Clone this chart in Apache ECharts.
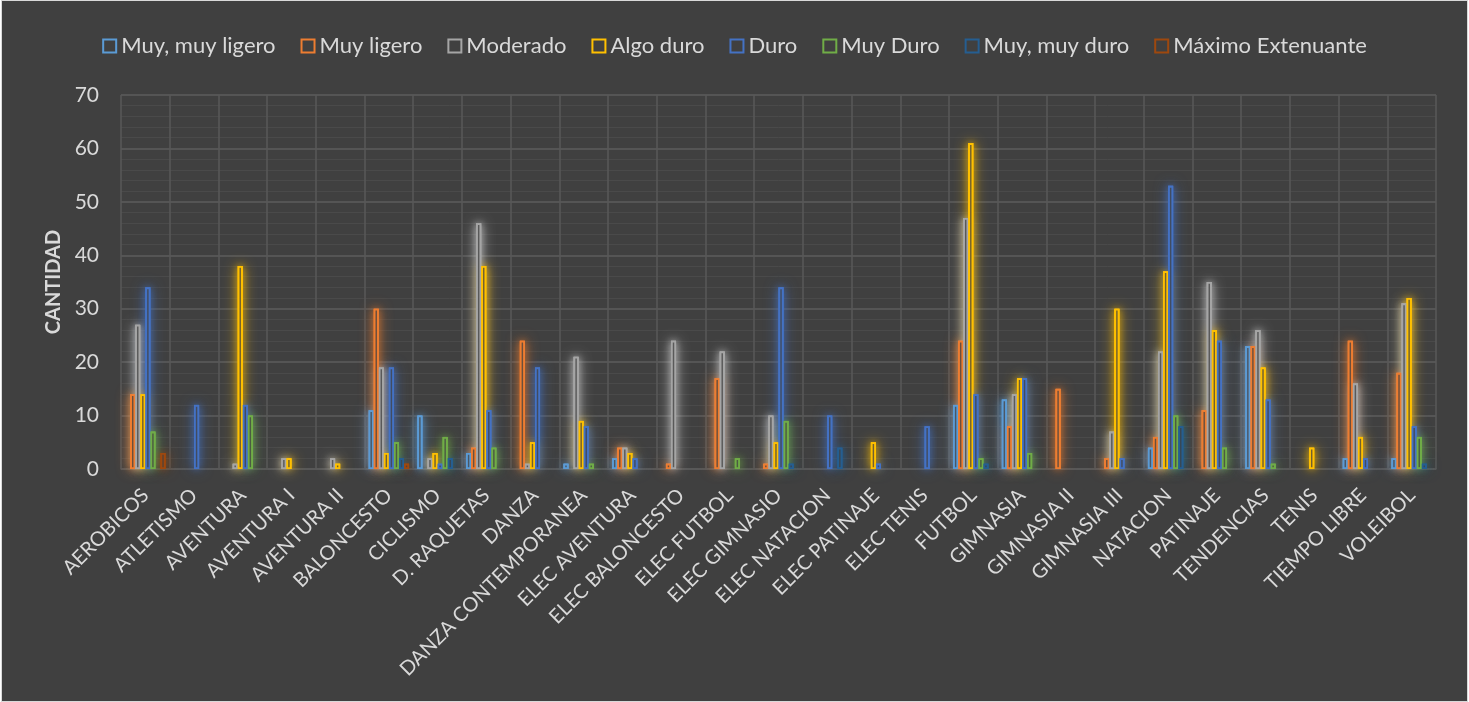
<!DOCTYPE html>
<html>
<head>
<meta charset="utf-8">
<script src="https://cdn.jsdelivr.net/npm/echarts@6/dist/echarts.min.js"></script>
<style>
html,body{margin:0;padding:0;background:#ffffff;width:1469px;height:702px;overflow:hidden}
#frame{position:absolute;left:1px;top:0px;width:1465px;height:700px;border:1px solid #d9d9d9;background:#404040}
#chart{position:absolute;left:0;top:0;width:1465px;height:700px}
</style>
</head>
<body>
<div id="frame"><div id="chart"></div></div>
<script>
const categories = ['AEROBICOS','ATLETISMO','AVENTURA','AVENTURA I','AVENTURA II','BALONCESTO','CICLISMO','D. RAQUETAS','DANZA','DANZA CONTEMPORANEA','ELEC AVENTURA','ELEC BALONCESTO','ELEC FUTBOL','ELEC GIMNASIO','ELEC NATACION','ELEC PATINAJE','ELEC TENIS','FUTBOL','GIMNASIA','GIMNASIA II','GIMNASIA III','NATACION','PATINAJE','TENDENCIAS','TENIS','TIEMPO LIBRE','VOLEIBOL'];

const seriesNames = ['Muy, muy ligero','Muy ligero','Moderado','Algo duro','Duro','Muy Duro','Muy, muy duro','Máximo Extenuante'];

const muyMuyLigero = [null,null,null,null,null,11,10,3,null,1,2,null,null,null,null,null,null,12,13,null,null,4,null,23,null,2,2];
const muyLigero    = [14,null,null,null,null,30,null,4,24,null,4,1,17,1,null,null,null,24,8,15,2,6,11,23,null,24,18];
const moderado     = [27,null,1,2,2,19,2,46,1,21,4,24,22,10,null,null,null,47,14,null,7,22,35,26,null,16,31];
const algoDuro     = [14,null,38,2,1,3,3,38,5,9,3,null,null,5,null,5,null,61,17,null,30,37,26,19,4,6,32];
const duro         = [34,12,12,null,null,19,1,11,19,8,2,null,null,34,10,1,8,14,17,null,2,53,24,13,null,2,8];
const muyDuro      = [7,null,10,null,null,5,6,4,null,1,null,null,2,9,null,null,null,2,3,null,null,10,4,1,null,null,6];
const muyMuyDuro   = [null,null,null,null,null,2,2,null,null,null,null,null,null,1,4,null,null,1,null,null,null,8,null,null,null,null,1];
const maximoExtenuante = [3,null,null,null,null,1,null,null,null,null,null,null,null,null,null,null,null,null,null,null,null,null,null,null,null,null,null];

const yTicks = [0,10,20,30,40,50,60,70];

const seriesData = [muyMuyLigero,muyLigero,moderado,algoDuro,duro,muyDuro,muyMuyDuro,maximoExtenuante];
const colors = ['#5B9BD5','#ED7D31','#A5A5A5','#FFC000','#4472C4','#70AD47','#255E91','#9E480E'];
const innerFill = ['#4b5765','#6b4f3c','#595959','#706030','#414c61','#4c5b42','#394854','#584234'];
const rgb = ['91,155,213','237,125,49','215,215,215','255,192,0','68,114,196','112,173,71','37,94,145','158,72,14'];

const chart = echarts.init(document.getElementById('chart'), null, {renderer:'canvas'});
const font = 'Lato';

const barLayout = {barGap: '0%', barCategoryGap: '17%'};

const mainSeries = seriesNames.map((n, i) => Object.assign({
  name: n,
  type: 'bar',
  xAxisIndex: 0,
  z: 5,
  data: seriesData[i],
  itemStyle: {color: innerFill[i], borderColor: colors[i], borderWidth: 1.8},
  emphasis: {disabled: true}
}, barLayout));

// glow: opaque copies behind the bars whose blurred shadow forms the halo
function glowLayer(axisIdx, blur, alpha, z) {
  return seriesNames.map((n, i) => Object.assign({
    name: n + ' glow' + axisIdx,
    type: 'bar',
    xAxisIndex: axisIdx,
    z: z,
    silent: true,
    data: seriesData[i],
    itemStyle: {
      color: colors[i],
      borderWidth: 0,
      shadowBlur: blur,
      shadowOffsetX: 0,
      shadowOffsetY: 0,
      shadowColor: 'rgba(' + rgb[i] + ',' + alpha + ')'
    },
    emphasis: {disabled: true}
  }, barLayout));
}

const hiddenAxis = {type: 'category', data: categories, boundaryGap: true, show: false};

chart.setOption({
  backgroundColor: '#404040',
  animation: false,
  color: colors,
  legend: {
    top: 29,
    left: 'center',
    itemWidth: 13,
    itemHeight: 13,
    itemGap: 25,
    icon: 'rect',
    itemStyle: {borderWidth: 2, color: '#404040'},
    textStyle: {color: '#d9d9d9', fontFamily: font, fontSize: 22},
    data: seriesNames
  },
  grid: {left: 119, right: 31, top: 94, bottom: 232, containLabel: false},
  xAxis: [
    {
      type: 'category',
      data: categories,
      boundaryGap: true,
      axisLine: {show: true, lineStyle: {color: '#5a5a5a', width: 1.5}},
      axisTick: {show: false},
      splitLine: {show: true, interval: 0, lineStyle: {color: '#595959', width: 1.5}},
      axisLabel: {interval: 0, rotate: 45, color: '#d9d9d9', fontFamily: font, fontSize: 20, margin: 23}
    },
    hiddenAxis,
    Object.assign({}, hiddenAxis)
  ],
  yAxis: {
    type: 'value',
    min: yTicks[0],
    max: yTicks[yTicks.length-1],
    interval: 10,
    name: 'CANTIDAD',
    nameLocation: 'middle',
    nameRotate: 90,
    nameGap: 56,
    nameTextStyle: {color: '#d9d9d9', fontFamily: font, fontSize: 20, fontWeight: 'bold'},
    axisLine: {show: false},
    axisTick: {show: false},
    axisLabel: {color: '#d9d9d9', fontFamily: font, fontSize: 21, margin: 22},
    splitLine: {show: true, lineStyle: {color: '#5c5c5c', width: 1.5}},
    minorTick: {show: false, splitNumber: 5},
    minorSplitLine: {show: true, lineStyle: {color: '#4a4a4a', width: 1}}
  },
  series: mainSeries.concat(glowLayer(1, 14, 0.9, 2), glowLayer(2, 7, 0.7, 3))
});
</script>
</body>
</html>
